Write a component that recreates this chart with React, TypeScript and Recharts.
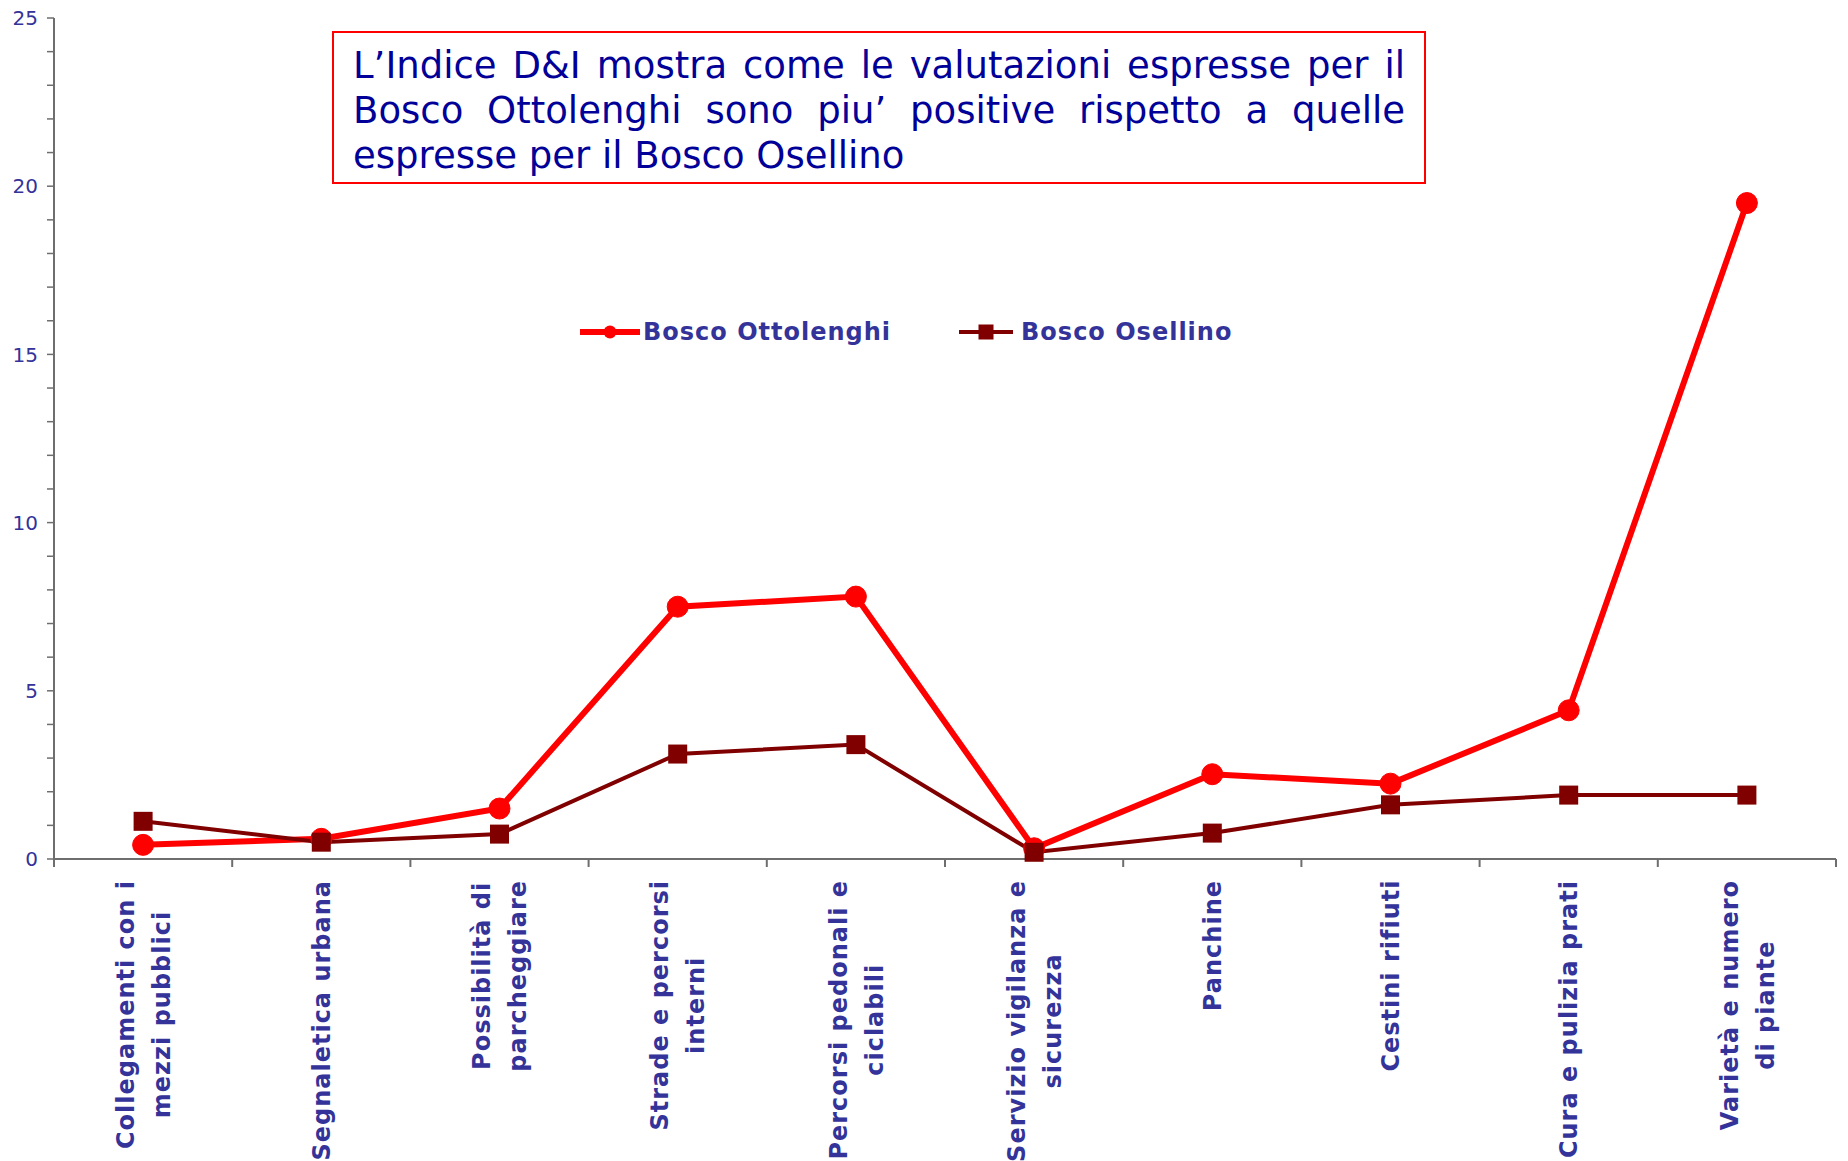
import React from "react";
import { LineChart, Line, XAxis, YAxis } from "recharts";

const categories = [
  "Collegamenti con i\nmezzi pubblici",
  "Segnaletica urbana",
  "Possibilità di\nparcheggiare",
  "Strade e percorsi\ninterni",
  "Percorsi pedonali e\nciclabili",
  "Servizio vigilanza e\nsicurezza",
  "Panchine",
  "Cestini rifiuti",
  "Cura e pulizia prati",
  "Varietà e numero\ndi piante",
];
const ottolenghi = [0.42, 0.6, 1.5, 7.5, 7.8, 0.32, 2.52, 2.24, 4.42, 19.5];
const osellino = [1.12, 0.5, 0.74, 3.12, 3.4, 0.2, 0.77, 1.61, 1.9, 1.9];
const yTicks = [0, 1, 2, 3, 4, 5, 6, 7, 8, 9, 10, 11, 12, 13, 14, 15, 16, 17, 18, 19, 20, 21, 22, 23, 24, 25];

const note =
  "L\u2019Indice D&I mostra come le valutazioni espresse per il Bosco Ottolenghi sono piu\u2019 positive rispetto a quelle espresse per il Bosco Osellino";

const data = categories.map((c, i) => ({
  name: c,
  ottolenghi: ottolenghi[i],
  osellino: osellino[i],
}));

const W = 1848;
const H = 1161;
const LEFT = 54;
const RIGHT = 12;
const STEP = (W - LEFT - RIGHT) / categories.length;
const LABEL_COLOR = "#333399";
const LABEL_FONT_SIZE = 24;
const LABEL_SPACING = 1;
const LABEL_FONT = `bold ${LABEL_FONT_SIZE}px 'DejaVu Sans'`;
const AXIS_COLOR = "#6e6e6e";

const measureCtx =
  typeof document !== "undefined"
    ? document.createElement("canvas").getContext("2d")
    : null;

function textWidth(s: string, font: string) {
  if (!measureCtx) return s.length * 16;
  measureCtx.font = font;
  return measureCtx.measureText(s).width + s.length * LABEL_SPACING;
}

const XTick = (props: any) => {
  const { x, y, payload, index } = props;
  const lines = String(payload.value).split("\n");
  const maxW = Math.max(...lines.map((l) => textWidth(l, LABEL_FONT)));
  const cx = -(21 + maxW / 2);
  return (
    <g transform={`translate(${x},${y})`}>
      <line x1={-STEP / 2} x2={-STEP / 2} y1={0} y2={8} stroke={AXIS_COLOR} strokeWidth={2} />
      {index === categories.length - 1 && (
        <line x1={STEP / 2} x2={STEP / 2} y1={0} y2={8} stroke={AXIS_COLOR} strokeWidth={2} />
      )}
      <text
        transform="rotate(-90)"
        textAnchor="middle"
        fill={LABEL_COLOR}
        fontWeight="bold"
        fontSize={LABEL_FONT_SIZE}
        letterSpacing={LABEL_SPACING}
        fontFamily="'DejaVu Sans'"
      >
        {lines.map((l, i) => (
          <tspan key={i} x={cx} y={(i - (lines.length - 1) / 2) * 36} dy="0.36em">
            {l}
          </tspan>
        ))}
      </text>
    </g>
  );
};

const YTick = (props: any) => {
  const { x, y, payload } = props;
  const major = payload.value % 5 === 0;
  return (
    <g>
      <line x1={x - 7} x2={x} y1={y} y2={y} stroke={AXIS_COLOR} strokeWidth={1.5} />
      {major && (
        <text
          x={x - 16}
          y={y}
          dy="0.36em"
          textAnchor="end"
          fill={LABEL_COLOR}
          fontSize={20}
          fontFamily="'DejaVu Sans'"
        >
          {payload.value}
        </text>
      )}
    </g>
  );
};

const SquareDot = (props: any) => {
  const { cx, cy, index } = props;
  if (cx == null || cy == null) return null;
  return <rect key={`sq-${index}`} x={cx - 9.5} y={cy - 9.5} width={19} height={19} fill="#800000" />;
};

const LegendBox = () => (
  <div
    style={{
      position: "absolute",
      left: 580,
      top: 318,
      display: "flex",
      alignItems: "center",
      fontFamily: "'DejaVu Sans'",
      fontWeight: "bold",
      fontSize: 24,
      letterSpacing: 1,
      color: LABEL_COLOR,
      whiteSpace: "nowrap",
    }}
  >
    <svg width={60} height={20} style={{ marginRight: 3 }}>
      <line x1={0} x2={60} y1={10} y2={10} stroke="#FF0000" strokeWidth={6} />
      <circle cx={30} cy={10} r={6.5} fill="#FF0000" />
    </svg>
    <span>Bosco Ottolenghi</span>
    <svg width={54} height={20} style={{ marginLeft: 68, marginRight: 8 }}>
      <line x1={0} x2={54} y1={10} y2={10} stroke="#800000" strokeWidth={4} />
      <rect x={19.5} y={2.5} width={15} height={15} fill="#800000" />
    </svg>
    <span>Bosco Osellino</span>
  </div>
);

export default function App() {
  return (
    <div style={{ position: "absolute", left: 0, top: 0, width: W, height: H, background: "#fff" }}>
      <LineChart width={W} height={H} data={data} margin={{ top: 18, right: RIGHT, left: 0, bottom: 0 }}>
        <XAxis
          dataKey="name"
          height={302}
          interval={0}
          padding={{ left: STEP / 2, right: STEP / 2 }}
          tick={<XTick />}
          tickLine={false}
          tickSize={0}
          tickMargin={0}
          axisLine={{ stroke: AXIS_COLOR, strokeWidth: 2 }}
        />
        <YAxis
          width={LEFT}
          domain={[0, 25]}
          ticks={yTicks}
          interval={0}
          tick={<YTick />}
          tickLine={false}
          tickSize={0}
          tickMargin={0}
          axisLine={{ stroke: AXIS_COLOR, strokeWidth: 2 }}
        />
        <Line
          dataKey="ottolenghi"
          name="Bosco Ottolenghi"
          stroke="#FF0000"
          strokeWidth={6}
          dot={{ r: 10.5, fill: "#FF0000", stroke: "#FF0000", strokeWidth: 1 }}
          isAnimationActive={false}
        />
        <Line
          dataKey="osellino"
          name="Bosco Osellino"
          stroke="#800000"
          strokeWidth={4}
          dot={<SquareDot />}
          isAnimationActive={false}
        />
      </LineChart>
      <LegendBox />
      <div
        style={{
          position: "absolute",
          left: 332,
          top: 31,
          width: 1094,
          height: 153,
          boxSizing: "border-box",
          border: "2px solid #FF0000",
          background: "#fff",
          padding: "10px 19px 0 19px",
          fontFamily: "'DejaVu Sans'",
          fontSize: 37,
          lineHeight: "45px",
          color: "#000099",
          textAlign: "justify",
        }}
      >
        {note}
      </div>
    </div>
  );
}
